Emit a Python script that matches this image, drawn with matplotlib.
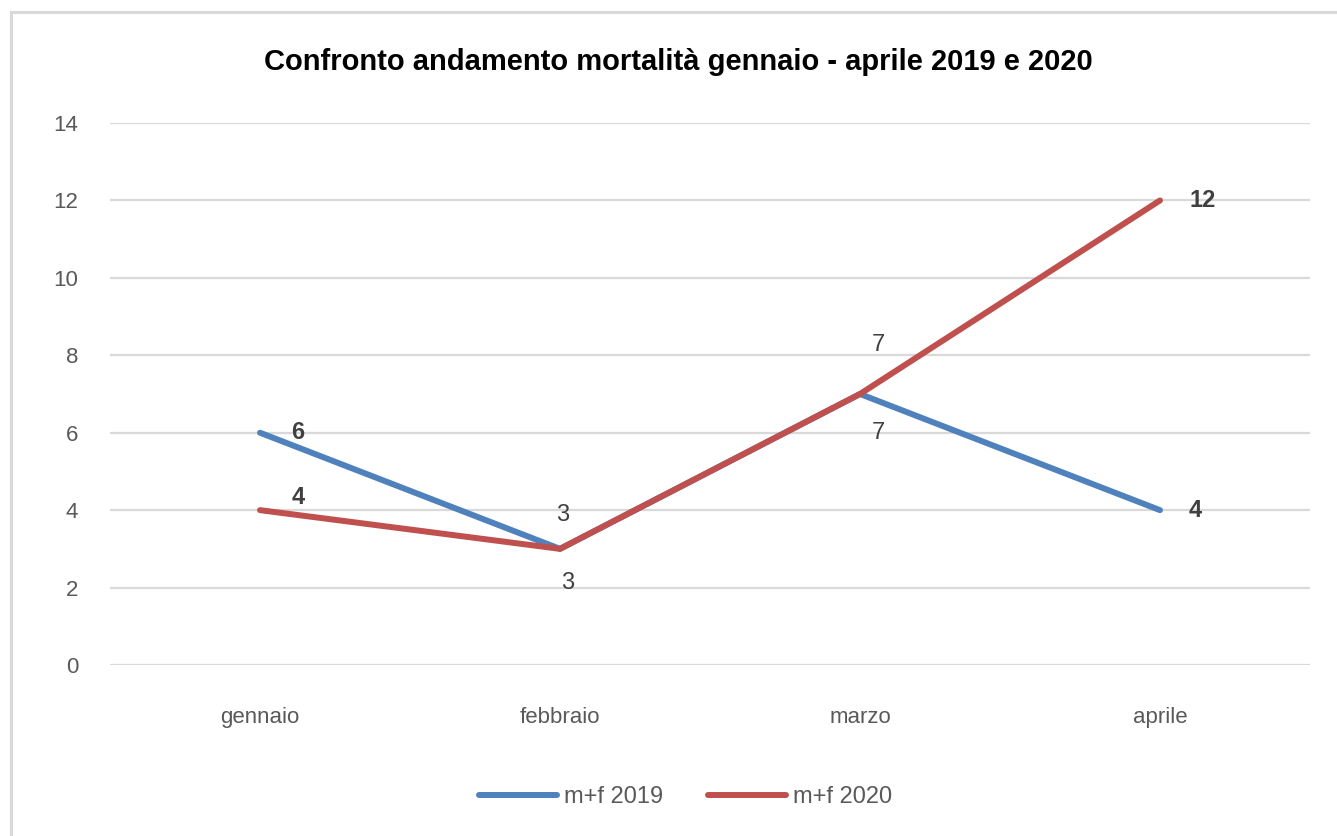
import matplotlib.pyplot as plt
from matplotlib.patches import Rectangle

plt.rcParams['font.family'] = ['Liberation Sans', 'DejaVu Sans']

mesi = ['gennaio', 'febbraio', 'marzo', 'aprile']
mf_2019 = [6, 3, 7, 4]
mf_2020 = [4, 3, 7, 12]
y_ticks = [0, 2, 4, 6, 8, 10, 12, 14]

blu = '#4F81BD'
rosso = '#C0504D'

fig = plt.figure(figsize=(13.37, 8.36), dpi=100)
# cornice grigia del grafico
fig.patches.append(Rectangle((11 / 1337, -0.05), 1.1, 0.05 + (836 - 12) / 836,
                             transform=fig.transFigure, fill=False,
                             edgecolor='#D9D9D9', linewidth=2.2))

ax = fig.add_axes([110 / 1337, 1 - 665 / 836, 1200 / 1337, (665 - 123) / 836])
x = list(range(len(mesi)))
ax.plot(x, mf_2019, color=blu, linewidth=4.3, solid_capstyle='round', label='m+f 2019', zorder=3)
ax.plot(x, mf_2020, color=rosso, linewidth=4.3, solid_capstyle='round', label='m+f 2020', zorder=4)

ax.set_xlim(-0.5, len(mesi) - 0.5)
ax.set_ylim(0, 14)
ax.set_yticks(y_ticks)
ax.set_xticks(x)
ax.set_xticklabels(mesi)
ax.grid(axis='y', color='#D9D9D9', linewidth=1.6)
ax.set_axisbelow(True)
for s in ax.spines.values():
    s.set_visible(False)
ax.tick_params(length=0, labelsize=16, labelcolor='#595959')
ax.tick_params(axis='y', pad=23)
ax.tick_params(axis='x', pad=30)

# etichette dati (offset in pixel come nell'originale)
off_2019 = [(38, 0, 'bold'), (3, 34, 'normal'), (18, -39, 'normal'), (35, 0, 'bold')]
off_2020 = [(38, 13, 'bold'), (8, -34, 'normal'), (18, 49, 'normal'), (43, 0, 'bold')]
for serie, offs in ((mf_2019, off_2019), (mf_2020, off_2020)):
    for i, v in enumerate(serie):
        dx, dy, w = offs[i]
        ax.annotate(str(v), (i, v), xytext=(dx, dy), textcoords='offset pixels',
                    ha='center', va='center', fontsize=17, fontweight=w,
                    color='#404040', zorder=5)

fig.text(678 / 1337, 1 - 62 / 836, 'Confronto andamento mortalità gennaio - aprile 2019 e 2020',
         ha='center', va='center', fontsize=21, fontweight='bold', color='#000000')

fig.legend(loc='center', bbox_to_anchor=(686 / 1337, 1 - 797 / 836), ncol=2, frameon=False,
           fontsize=17, labelcolor='#595959', handlelength=3.3, columnspacing=1.9,
           handletextpad=0.3)

fig.savefig('out.png', dpi=100)
